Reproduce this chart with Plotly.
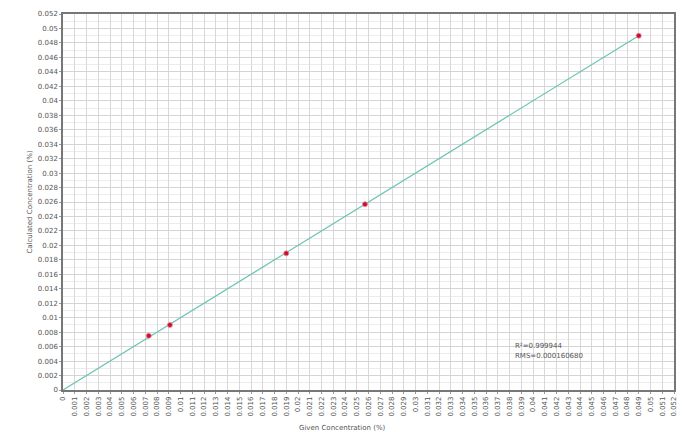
import plotly.graph_objects as go

given = [0.0073, 0.0091, 0.0190, 0.0257, 0.0490]
calculated = [0.0075, 0.0090, 0.0189, 0.0257, 0.0490]
fit_x = [0.0, 0.0490]
fit_y = [0.0, 0.0490]

x_ticks = [i / 1000 for i in range(0, 53)]
y_ticks = [i / 1000 for i in range(0, 53, 2)]
x_labels = [f"{v:g}" for v in x_ticks]
y_labels = [f"{v:g}" for v in y_ticks]

stats = ["R²=0.999944", "RMS=0.000160680"]

fig = go.Figure()
fig.add_trace(go.Scatter(x=fit_x, y=fit_y, mode="lines",
                         line=dict(color="#6cc4b4", width=1.2), showlegend=False))
fig.add_trace(go.Scatter(x=given, y=calculated, mode="markers",
                         marker=dict(color="#c8102e", size=5, symbol="circle",
                                     line=dict(color="#e88a9a", width=0.8)),
                         showlegend=False))

fig.update_layout(
    width=686, height=424,
    margin=dict(l=55, r=20, t=6, b=42),
    paper_bgcolor="white", plot_bgcolor="white",
    font=dict(family="DejaVu Sans", size=7, color="#555"),
    xaxis=dict(range=[0, 0.052], tickmode="array", tickvals=x_ticks, ticktext=x_labels,
               tickangle=-90, showgrid=True, gridcolor="#d8d8d8", gridwidth=1,
               zeroline=False, showline=True, linecolor="#777", linewidth=1.5, mirror=True,
               ticks="outside", ticklen=2, tickcolor="#999", automargin=False),
    yaxis=dict(range=[0, 0.052], tickmode="array", tickvals=y_ticks, ticktext=y_labels,
               showgrid=True, gridcolor="#d4d4d4", gridwidth=1,
               minor=dict(dtick=0.001, showgrid=True, gridcolor="#ececec"),
               zeroline=False, showline=True, linecolor="#777", linewidth=1.5, mirror=True,
               ticks="outside", ticklen=2, tickcolor="#999", automargin=False,
               title=dict(text="Calculated Concentration (%)", font=dict(size=7, color="#555"), standoff=4)),
)

fig.add_annotation(x=0.458, y=-0.101, xref="paper", yref="paper", text="Given Concentration (%)",
                   showarrow=False, xanchor="center", yanchor="middle",
                   font=dict(size=7, color="#555"))

fig.add_annotation(x=0.0383, y=0.0061, xref="x", yref="y", text=stats[0],
                   showarrow=False, xanchor="left", font=dict(size=7, color="#555"))
fig.add_annotation(x=0.0383, y=0.0047, xref="x", yref="y", text=stats[1],
                   showarrow=False, xanchor="left", font=dict(size=7, color="#555"))

fig.write_html("out.html")
